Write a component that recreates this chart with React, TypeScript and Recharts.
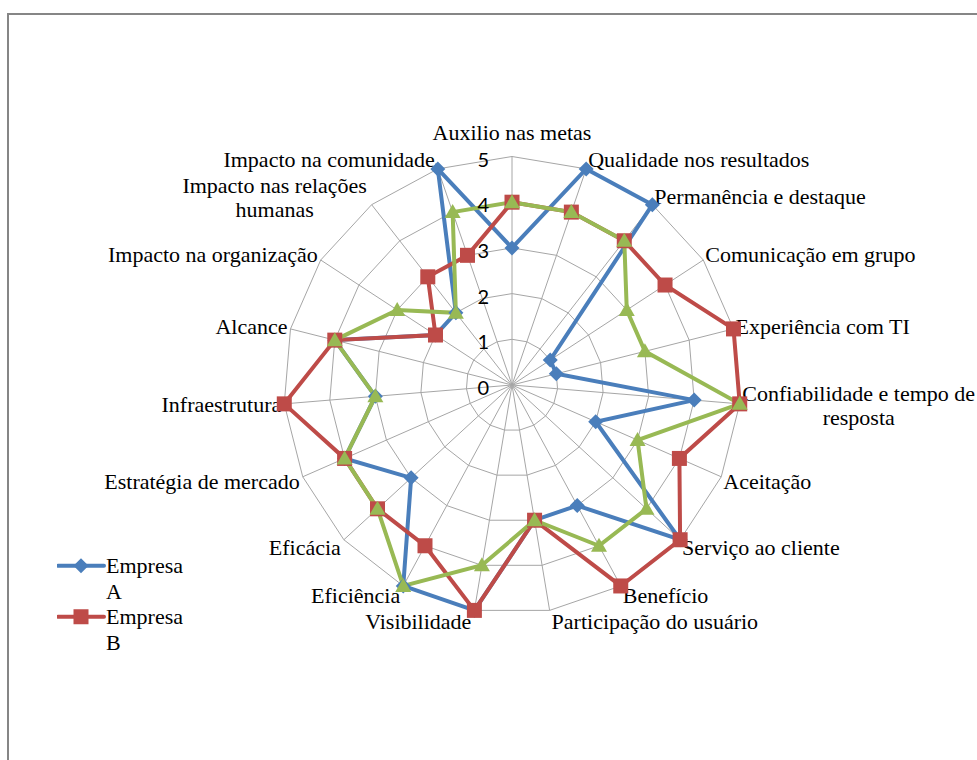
import React from 'react';
import { RadarChart, Radar, PolarGrid, PolarAngleAxis, PolarRadiusAxis, Legend } from 'recharts';

const categories = [
  'Auxilio nas metas',
  'Qualidade nos resultados',
  'Permanência e destaque',
  'Comunicação em grupo',
  'Experiência com TI',
  'Confiabilidade e tempo de resposta',
  'Aceitação',
  'Serviço ao cliente',
  'Benefício',
  'Participação do usuário',
  'Visibilidade',
  'Eficiência',
  'Eficácia',
  'Estratégia de mercado',
  'Infraestrutura',
  'Alcance',
  'Impacto na organização',
  'Impacto nas relações humanas',
  'Impacto na comunidade',
];

const empresaA = [3, 5, 5, 1, 1, 4, 2, 5, 3, 3, 5, 5, 3, 4, 3, 4, 2, 2, 5];
const empresaB = [4, 4, 4, 4, 5, 5, 4, 5, 5, 3, 5, 4, 4, 4, 5, 4, 2, 3, 3];
const empresaC = [4, 4, 4, 3, 3, 5, 3, 4, 4, 3, 4, 5, 4, 4, 3, 4, 3, 2, 4];

const seriesNames = ['Empresa A', 'Empresa B', 'Empresa C'];
const legendNames = ['Empresa A', 'Empresa B'];
const radiusTicks = [0, 1, 2, 3, 4, 5];

const data = categories.map((c, i) => ({
  category: c,
  A: empresaA[i],
  B: empresaB[i],
  C: empresaC[i],
}));

const W = 968;
const H = 745;
const CX = 503;
const CY = 370;
const R = 228.5;
const SERIF = "'Liberation Serif', Tinos, 'Times New Roman', serif";
const SANS = "Lato, 'Liberation Sans', sans-serif";
const FS = 22;
const BLUE = '#4A7EBB';
const RED = '#BE4B48';
const GREEN = '#98B954';
const GRID = '#a6a6a6';

const wrapped: Record<string, { lines: string[]; half: number }> = {
  'Confiabilidade e tempo de resposta': { lines: ['Confiabilidade e tempo de', 'resposta'], half: 113 },
  'Impacto nas relações humanas': { lines: ['Impacto nas relações', 'humanas'], half: 92 },
};

function AngleTick(props: any) {
  const { x, y, payload } = props;
  const dx = x - CX;
  const dy = y - CY;
  const d = Math.hypot(dx, dy) || 1;
  const ux = dx / d;
  const uy = dy / d;
  const px = CX + R * ux;
  const py = CY + R * uy;
  const label = String(payload.value);
  const w = wrapped[label];
  const common = {
    fontSize: FS,
    fill: '#000',
    dominantBaseline: 'central' as any,
    style: { fontFamily: SERIF },
  };
  if (w) {
    const lh = 24;
    const cx = ux > 0 ? px + 6 + w.half : px - 5 - w.half;
    const cyc = py + 10 * uy;
    const y0 = cyc - ((w.lines.length - 1) * lh) / 2;
    return (
      <text {...common} textAnchor="middle">
        {w.lines.map((l, i) => (
          <tspan key={i} x={cx} y={y0 + i * lh}>
            {l}
          </tspan>
        ))}
      </text>
    );
  }
  if (Math.abs(ux) < 0.05) {
    return (
      <text {...common} x={px} y={py - 24} textAnchor="middle">
        {label}
      </text>
    );
  }
  const tx = ux > 0 ? px + 2 : px - 3;
  const ty = py + (uy > 0 ? 11 : 10) * uy;
  return (
    <text {...common} x={tx} y={ty} textAnchor={ux > 0 ? 'start' : 'end'}>
      {label}
    </text>
  );
}

function RadiusTick(props: any) {
  const { x, y, payload } = props;
  return (
    <text
      x={x - 23}
      y={y + 2}
      textAnchor="end"
      dominantBaseline="central"
      fontSize={20}
      fill="#000"
      style={{ fontFamily: SANS }}
    >
      {payload.value}
    </text>
  );
}

function markerShape(kind: string, cx: number, cy: number, color: string, key?: any) {
  if (kind === 'diamond') {
    const s = 7.5;
    return <polygon key={key} points={`${cx},${cy - s} ${cx + s},${cy} ${cx},${cy + s} ${cx - s},${cy}`} fill={color} />;
  }
  if (kind === 'square') {
    const s = 7.5;
    return <rect key={key} x={cx - s} y={cy - s} width={2 * s} height={2 * s} fill={color} />;
  }
  const s = 8;
  return (
    <polygon
      key={key}
      points={`${cx},${cy - s} ${cx + s},${cy + s * 0.75} ${cx - s},${cy + s * 0.75}`}
      fill={color}
    />
  );
}

const seriesStyle: Record<string, { color: string; marker: string }> = {
  'Empresa A': { color: BLUE, marker: 'diamond' },
  'Empresa B': { color: RED, marker: 'square' },
  'Empresa C': { color: GREEN, marker: 'triangle' },
};

function LegendContent(props: any) {
  const { payload } = props;
  const items = (payload || []).filter(
    (p: any) => p.type !== 'none' && legendNames.includes(String(p.value)),
  );
  return (
    <div style={{ fontFamily: SERIF, fontSize: FS, lineHeight: '25.5px', color: '#000' }}>
      {items.map((p: any, i: number) => {
        const name = String(p.value);
        const st = seriesStyle[name] || { color: p.color, marker: 'square' };
        const parts = name.split(' ');
        return (
          <div key={i} style={{ display: 'flex', alignItems: 'flex-start' }}>
            <svg width={49} height={25.5} style={{ display: 'block' }}>
              <line x1={1} x2={47} y1={12.75} y2={12.75} stroke={st.color} strokeWidth={4} strokeLinecap="round" />
              {markerShape(st.marker, 24, 12.75, st.color)}
            </svg>
            <div>
              {parts[0]}
              <br />
              {parts.slice(1).join(' ')}
            </div>
          </div>
        );
      })}
    </div>
  );
}

const makeDot = (kind: string, color: string) => (props: any) => {
  const { cx, cy, index } = props;
  return markerShape(kind, cx, cy, color, `${kind}-${index}`);
};

export default function App() {
  return (
    <div
      style={{
        position: 'absolute',
        left: 7,
        top: 13,
        width: W,
        height: H,
        borderTop: '2px solid #868686',
        borderLeft: '2px solid #868686',
        overflow: 'hidden',
        background: '#fff',
        fontFamily: SERIF,
      }}
    >
      <RadarChart
        width={W}
        height={H}
        data={data}
        cx={CX}
        cy={CY}
        outerRadius={R}
        startAngle={90}
        endAngle={-270}
        margin={{ top: 0, right: 0, bottom: 0, left: 0 }}
        style={{ fontFamily: SERIF }}
      >
        <PolarGrid gridType="polygon" stroke={GRID} strokeWidth={1} />
        <PolarAngleAxis dataKey="category" tick={<AngleTick />} tickLine={false} axisLine={false} />
        <PolarRadiusAxis
          angle={90}
          domain={[0, 5]}
          ticks={radiusTicks as any}
          tickCount={6}
          axisLine={false}
          tick={<RadiusTick />}
        />
        <Radar
          name={seriesNames[0]}
          dataKey="A"
          stroke={BLUE}
          strokeWidth={4}
          fill="none"
          fillOpacity={0}
          dot={makeDot('diamond', BLUE)}
          isAnimationActive={false}
        />
        <Radar
          name={seriesNames[1]}
          dataKey="B"
          stroke={RED}
          strokeWidth={4}
          fill="none"
          fillOpacity={0}
          dot={makeDot('square', RED)}
          isAnimationActive={false}
        />
        <Radar
          name={seriesNames[2]}
          dataKey="C"
          stroke={GREEN}
          strokeWidth={4}
          fill="none"
          fillOpacity={0}
          dot={makeDot('triangle', GREEN)}
          legendType="none"
          isAnimationActive={false}
        />
        <Legend
          layout="vertical"
          align="left"
          verticalAlign="top"
          content={<LegendContent />}
          wrapperStyle={{ position: 'absolute', left: 48, top: 538, width: 200, height: 110 }}
        />
      </RadarChart>
    </div>
  );
}
